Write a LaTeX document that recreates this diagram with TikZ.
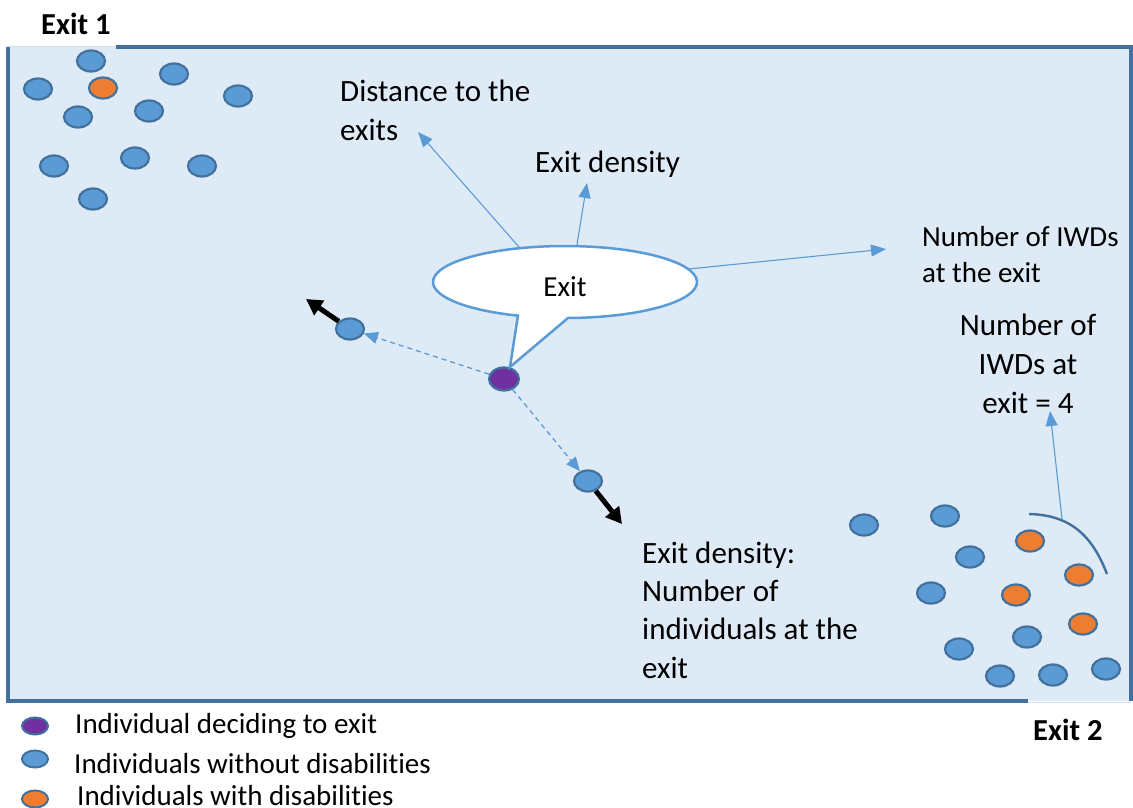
\documentclass[tikz,border=0pt]{standalone}
\usepackage{fontspec}
\setmainfont{Carlito}[Ligatures=NoCommon]
\usetikzlibrary{arrows.meta,shapes.geometric}
\definecolor{bgfill}{HTML}{DEEBF7}
\definecolor{frame}{HTML}{41719C}
\definecolor{dotblue}{HTML}{5B9BD5}
\definecolor{dotorange}{HTML}{ED7D31}
\definecolor{dotpurple}{HTML}{7030A0}
\definecolor{lineblue}{HTML}{5B9BD5}
\definecolor{gapgray}{HTML}{D6DEE8}
\tikzset{
  person/.style={ellipse, draw=frame, line width=2.2pt, minimum width=28pt, minimum height=21pt, inner sep=0pt},
  pblue/.style={person, fill=dotblue},
  porange/.style={person, fill=dotorange},
  ppurple/.style={person, fill=dotpurple, minimum width=30pt, minimum height=23pt},
  lgdot/.style={ellipse, draw=frame, line width=2pt, minimum width=26pt, minimum height=17pt, inner sep=0pt},
  lbl/.style={inner sep=0pt, anchor=base west, align=left, font=\fontsize{31}{38.5}\selectfont},
  lgtext/.style={inner sep=0pt, anchor=base west, font=\fontsize{29}{34}\selectfont},
  exitlbl/.style={inner sep=0pt, anchor=base west, font=\fontsize{30.5}{34}\selectfont\bfseries},
  thinarrow/.style={draw=lineblue, line width=1.1pt, -{Triangle[length=15pt,width=12pt]}},
  dasharrow/.style={draw=lineblue, line width=1.3pt, dash pattern=on 5pt off 4pt, -{Triangle[length=14pt,width=12pt]}},
  pusharrow/.style={draw=black, line width=5pt, -{Triangle[length=16pt,width=17pt]}},
}
\begin{document}
\begin{tikzpicture}[x=1pt,y=-1pt]
\useasboundingbox (0,0) rectangle (1133,808);
% room
\fill[bgfill] (8,47) rectangle (1131,701);
\draw[gapgray, line width=1pt] (7,47) -- (116,47);
\draw[gapgray, line width=1pt] (1028,702) -- (1131,702);
\draw[frame, line width=3.5pt] (116,47) -- (1131,47) -- (1131,701);
\draw[frame, line width=3.5pt] (8,47) -- (8,701) -- (1028,701);
\node[exitlbl] (exit1) at (41,35) {Exit 1};
\node[exitlbl] (exit2) at (1033,740) {Exit 2};
% people near exit 1
\node[pblue] (a1) at (91,61) {};
\node[pblue] (a2) at (38,89) {};
\node[porange] (a3) at (103,88) {};
\node[pblue] (a4) at (174,74) {};
\node[pblue] (a5) at (238,96) {};
\node[pblue] (a6) at (78,117) {};
\node[pblue] (a7) at (149,111) {};
\node[pblue] (a8) at (54,166) {};
\node[pblue] (a9) at (135,158) {};
\node[pblue] (a10) at (202,166) {};
\node[pblue] (a11) at (93,199) {};
% people near exit 2
\node[pblue] (b1) at (864,525) {};
\node[pblue] (b2) at (945,516) {};
\node[pblue] (b3) at (970,557) {};
\node[porange] (b4) at (1030,541) {};
\node[pblue] (b5) at (931,593) {};
\node[porange] (b6) at (1016,595) {};
\node[porange] (b7) at (1079,575) {};
\node[porange] (b8) at (1083,624) {};
\node[pblue] (b9) at (1027,637) {};
\node[pblue] (b10) at (959,649) {};
\node[pblue] (b11) at (1000,676) {};
\node[pblue] (b12) at (1053,675) {};
\node[pblue] (b13) at (1106,669) {};
% decider and neighbours
\node[ppurple] (dec) at (504,379) {};
\node[pblue] (nl) at (350,329) {};
\node[pblue] (nr) at (588,481) {};
\draw[dasharrow] (dec) -- (nl);
\draw[dasharrow] (dec) -- (nr);
\coordinate (pl) at (306,299);
\coordinate (pr) at (622,524);
\draw[pusharrow] (nl) -- (pl);
\draw[pusharrow] (nr) -- (pr);
% callout
\draw[draw=lineblue, fill=white, line width=2.5pt, line join=miter]
  (568,318) arc[start angle=88.7, end angle=-249.1, x radius=132, y radius=36]
  -- (510,367) -- cycle;
\node[ellipse, minimum width=264pt, minimum height=72pt, inner sep=0pt] (bub) at (565,282) {};
\node[inner sep=0pt, anchor=base, font=\fontsize{29}{34}\selectfont] (bubtext) at (565,296) {Exit};
% labels (base anchor = baseline of last line)
\node[lbl] (dist) at (340,140) {Distance to the\\exits};
\node[lbl] (dens) at (535,172) {Exit density};
\node[lbl, font=\fontsize{29}{36}\selectfont] (niwd) at (922,282) {Number of IWDs\\at the exit};
\node[lbl, align=center, anchor=base, font=\fontsize{31}{39}\selectfont] (niwd4) at (1028,413) {Number of\\IWDs at\\exit = 4};
\node[lbl, font=\fontsize{31}{38.3}\selectfont] (densx) at (642,678) {Exit density:\\Number of\\individuals at the\\exit};
\coordinate (t1) at (418,132);
\coordinate (t2) at (587,183);
\coordinate (t3) at (886,249);
\draw[thinarrow] (bub.143) -- (t1);
\draw[thinarrow] (bub.72) -- (t2);
\draw[thinarrow] (bub.6) -- (t3);
% exit 2 arc
\draw[frame, line width=2.4pt] (1029,514) .. controls (1070,515) and (1092,535) .. (1107,574);
\coordinate (arcpt) at (1062,519);
\coordinate (t4) at (1050,411);
\draw[thinarrow] (arcpt) -- (t4);
% legend
\node[lgdot, fill=dotpurple] (l1) at (35,726) {};
\node[lgdot, fill=dotblue] (l2) at (35,759) {};
\node[lgdot, fill=dotorange] (l3) at (35,799) {};
\node[lgtext] (lt1) at (75,733) {Individual deciding to exit};
\node[lgtext] (lt2) at (74,773) {Individuals without disabilities};
\node[lgtext] (lt3) at (77,805) {Individuals with disabilities};
\end{tikzpicture}
\end{document}
